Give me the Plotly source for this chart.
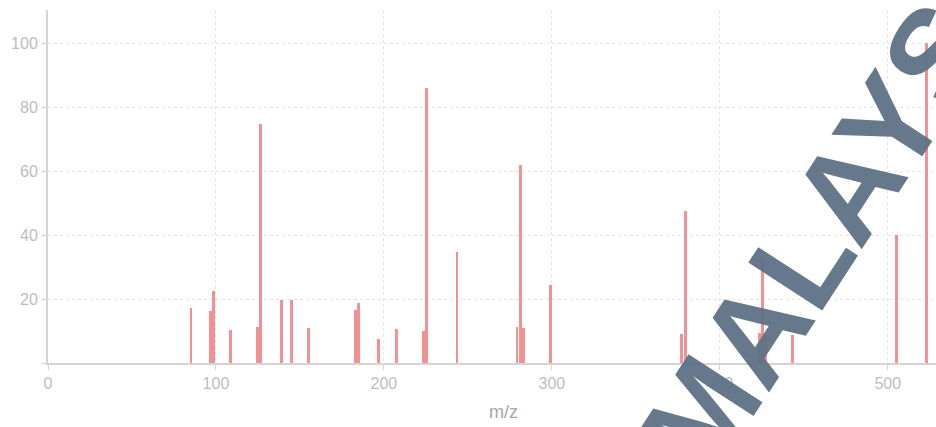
import plotly.graph_objects as go

# Fragment peaks: m/z and relative intensity (%)
mz = [85.1, 96.6, 98.6, 108.9, 124.8, 126.6, 138.9, 144.8, 154.9,
      182.9, 184.9, 197.0, 207.3, 223.4, 225.2, 243.5,
      279.2, 281.1, 283.3, 299.4, 377.0, 379.4, 423.4, 425.2, 427.2,
      443.5, 505.4, 523.2]
intensity = [17.1, 16.4, 22.6, 10.2, 11.2, 74.7, 19.6, 19.6, 11.0,
             16.7, 18.9, 7.5, 10.6, 10.1, 85.9, 34.6,
             11.4, 62.0, 11.1, 24.5, 9.1, 47.4, 9.4, 32.8, 8.5,
             8.8, 40.1, 100.0]

x_ticks = [0, 100, 200, 300, 400, 500]
y_ticks = [0, 20, 40, 60, 80, 100]
y_tick_text = ["", "20", "40", "60", "80", "100"]

W, H = 936, 427
ML, MR, MT, MB = 48, 0, 10, 64

fig = go.Figure(
    go.Bar(
        x=mz,
        y=intensity,
        width=1.7,
        marker=dict(color="rgb(242,145,148)", line=dict(width=0)),
        hoverinfo="x+y",
    )
)

axis_common = dict(
    showline=True,
    linecolor="#d4d4d4",
    linewidth=2,
    ticks="outside",
    ticklen=5,
    tickcolor="#d4d4d4",
    showgrid=True,
    gridcolor="#e4e4e4",
    griddash="dot",
    gridwidth=1,
    zeroline=False,
    tickfont=dict(family="Liberation Sans, Arial, sans-serif", size=16, color="#bdbdbd"),
)

fig.update_layout(
    width=W,
    height=H,
    margin=dict(l=ML, r=MR, t=MT, b=MB, pad=0),
    paper_bgcolor="white",
    plot_bgcolor="white",
    showlegend=False,
    bargap=0,
    xaxis=dict(range=[0, 528.7], tickvals=x_ticks, **axis_common),
    yaxis=dict(range=[0, 110.4], tickvals=y_ticks, ticktext=y_tick_text, **axis_common),
    annotations=[
        dict(
            text="m/z",
            xref="paper", yref="paper",
            x=(503.5 - ML) / (W - ML - MR), y=-(412 - (H - MB)) / (H - MT - MB),
            xanchor="center", yanchor="middle",
            showarrow=False,
            font=dict(family="Liberation Sans, Arial, sans-serif", size=18, color="#a6a6a6"),
        ),
        dict(
            text="<b>MALAYSIA</b>",
            xref="paper", yref="paper",
            x=(850 - ML) / (W - ML - MR), y=((H - MB) - 185) / (H - MT - MB),
            xanchor="center", yanchor="middle",
            textangle=-57,
            showarrow=False,
            opacity=0.95,
            font=dict(family="Liberation Sans, Arial, sans-serif", size=128, color="rgb(94,114,134)"),
        ),
    ],
)

fig.write_html("out.html")
